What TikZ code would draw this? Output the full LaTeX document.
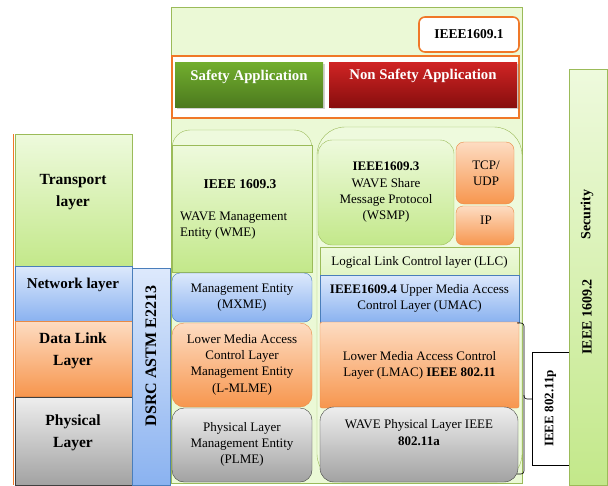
\documentclass[tikz,border=0pt]{standalone}
\usepackage{fontspec}
\setmainfont{Liberation Serif}
\usetikzlibrary{shadows}
\definecolor{bggreen}{HTML}{EBF9D6}
\definecolor{grborder}{HTML}{9BBB59}
\definecolor{orline}{HTML}{F07828}
\definecolor{grtop}{HTML}{EEFADD}
\definecolor{grbot}{HTML}{C3E88A}
\definecolor{bltop}{HTML}{DDE9FC}
\definecolor{blbot}{HTML}{8AB2F0}
\definecolor{blborder}{HTML}{4A7EBB}
\definecolor{ortop}{HTML}{FDDCC2}
\definecolor{orbot}{HTML}{F7964E}
\definecolor{orborder}{HTML}{E98A45}
\definecolor{gytop}{HTML}{EEEEEE}
\definecolor{gybot}{HTML}{A2A2A2}
\definecolor{gyborder}{HTML}{404040}
\definecolor{sftop}{HTML}{72AE2E}
\definecolor{sfbot}{HTML}{4C7A1E}
\definecolor{nstop}{HTML}{D02424}
\definecolor{nsbot}{HTML}{880E0E}
\newcommand\mkbox[6][]{%
  \pgfmathsetmacro\bw{#5-#3}\pgfmathsetmacro\bh{#6-#4}%
  \node[box,#1,anchor=north west,minimum width=\bw pt,minimum height=\bh pt] (#2) at (#3,#4) {};}
\tikzset{
  box/.style={draw, inner sep=0pt, outer sep=0pt},
  grn/.style={draw=grborder, top color=grtop, bottom color=grbot},
  blu/.style={draw=blborder, top color=bltop, bottom color=blbot},
  org/.style={draw=orborder, top color=ortop, bottom color=orbot},
  gry/.style={draw=gyborder, top color=gytop, bottom color=gybot},
  reg/.style={align=center, inner sep=0pt, font=\fontsize{13}{16.3}\selectfont},
  bld/.style={align=center, inner sep=0pt, font=\fontsize{15.5}{21.5}\selectfont\bfseries},
}
\begin{document}
\begin{tikzpicture}[x=1pt,y=-1pt]
\useasboundingbox (0,0) rectangle (608,485);
% main background
\mkbox[draw=grborder, fill=bggreen]{bg}{171}{7}{522}{483}
\mkbox[draw=orline, line width=1.6pt, fill=white, rounded corners=6pt]{ieeeA}{419}{17}{519}{52}
\node[reg, font=\fontsize{13.5}{16}\selectfont\bfseries] (ieeeAT) at (ieeeA.center) {IEEE1609.1};
\mkbox[draw=orline, line width=1.6pt, fill=white]{appframe}{172}{56}{519}{118}
\mkbox[draw=none, top color=sftop, bottom color=sfbot, drop shadow={opacity=0.35, shadow xshift=1.5pt, shadow yshift=-1.5pt}]{safety}{175}{62}{323}{107}
\node[bld, text=white, font=\fontsize{14.8}{18}\selectfont\bfseries] (safetyT) at (249,77) {Safety Application};
\mkbox[draw=none, top color=nstop, bottom color=nsbot, drop shadow={opacity=0.35, shadow xshift=1.5pt, shadow yshift=-1.5pt}]{nonsafety}{329}{62}{517}{107}
\node[bld, text=white, font=\fontsize{14.8}{18}\selectfont\bfseries] (nonsafetyT) at (423,76) {Non Safety Application};

% left column
\mkbox[grn]{transport}{15}{134}{132}{266}
\mkbox[blu]{network}{15}{266}{132}{321}
\mkbox[org]{datalink}{15}{321}{132}{396}
\mkbox[gry]{physical}{15}{397}{132}{485}
\draw[orline, line width=1.5pt] (13.5,134) -- (13.5,485);
\node[bld] (transportT) at (73,192) {Transport\\layer};
\node[bld, font=\fontsize{15}{21.5}\selectfont\bfseries] (networkT) at (73,285) {Network layer};
\node[bld] (datalinkT) at (73,351) {Data Link\\Layer};
\node[bld] (physicalT) at (73,433) {Physical\\Layer};
\mkbox[blu]{dsrc}{132}{268}{170}{485}
\node[bld, rotate=90, font=\fontsize{16}{20}\selectfont\bfseries] (dsrcT) at (151,356) {DSRC ASTM E2213};

% middle column
\draw[draw=grborder, fill=grtop, rounded corners=18pt] (172,130) rectangle (312,272);
\mkbox[grn]{wme}{172}{145}{312}{272}
\node[reg, font=\fontsize{13.5}{16}\selectfont\bfseries] (wmeT1) at (240,184) {IEEE 1609.3};
\node[reg, anchor=west, align=left] (wmeT2) at (180,225.5) {WAVE Management\\Entity (WME)};
\mkbox[blu, rounded corners=8pt]{mxme}{172}{273}{312}{322}
\node[reg] (mxmeT) at (242,297.5) {Management Entity\\(MXME)};
\mkbox[org, rounded corners=12pt]{lmlme}{172}{323}{312}{407}
\node[reg] (lmlmeT) at (242,364.5) {Lower Media Access\\Control Layer\\Management Entity\\(L-MLME)};
\mkbox[gry, rounded corners=12pt]{plme}{172}{408}{312}{482}
\node[reg] (plmeT) at (242,444.5) {Physical Layer\\Management Entity\\(PLME)};

% right column
\draw[draw=grborder, fill=grtop, rounded corners=28pt] (317,127) rectangle (522,482);
\mkbox[grn, rounded corners=14pt]{wsmp}{318}{140}{454}{245}
\node[reg] (wsmpT) at (386,192.5) {\textbf{IEEE1609.3}\\WAVE Share\\Message Protocol\\(WSMP)};
\mkbox[org, rounded corners=8pt]{tcp}{456}{142}{514}{204}
\node[reg] (tcpT) at (486,173.5) {TCP/\\UDP};
\mkbox[org, rounded corners=7pt]{ip}{456}{206}{514}{245}
\node[reg] (ipT) at (486,220) {IP};
\mkbox[draw=grborder, top color=grtop, bottom color=grtop!70!grbot]{llc}{320}{247}{519}{275}
\node[reg] (llcT) at (419.5,262) {Logical Link Control layer (LLC)};
\mkbox[blu]{umac}{320}{275}{519}{322}
\node[reg] (umacT) at (419.5,298.5) {\textbf{IEEE1609.4} Upper Media Access\\Control Layer (UMAC)};
\mkbox[org, rounded corners=2pt]{lmac}{320}{322}{519}{408}
\node[reg] (lmacT) at (419.5,365.5) {Lower Media Access Control\\Layer (LMAC) \textbf{IEEE 802.11}};
\mkbox[gry, rounded corners=14pt]{phy}{320}{407}{518}{482}
\node[reg] (phyT) at (419,432.5) {WAVE Physical Layer IEEE\\\textbf{802.11a}};

% 802.11p
\mkbox[draw=black, fill=white]{p80211}{532}{352}{569}{465}
\node[reg, rotate=90, font=\fontsize{13}{16}\selectfont\bfseries] (p80211T) at (550.5,408.5) {IEEE 802.11p};
\coordinate (brA) at (517,323);
\coordinate (brB) at (517,474);
\coordinate (brTip) at (p80211.west |- 0,399);
\draw[black, line width=0.6pt, rounded corners=3pt] (brA) -- (524,323) -- (524,399) -- (brTip);
\draw[black, line width=0.6pt, rounded corners=3pt] (524,395) -- (524,474) -- (brB);

% security
\mkbox[draw=grborder, top color=grtop, bottom color=grbot]{security}{569}{69}{607}{485}
\node[bld, rotate=90, font=\fontsize{14}{18}\selectfont\bfseries] (securityT) at (587,214.5) {Security};
\node[bld, rotate=90, font=\fontsize{14}{18}\selectfont\bfseries] (ieeeBT) at (587,317) {IEEE 1609.2};
\end{tikzpicture}
\end{document}
